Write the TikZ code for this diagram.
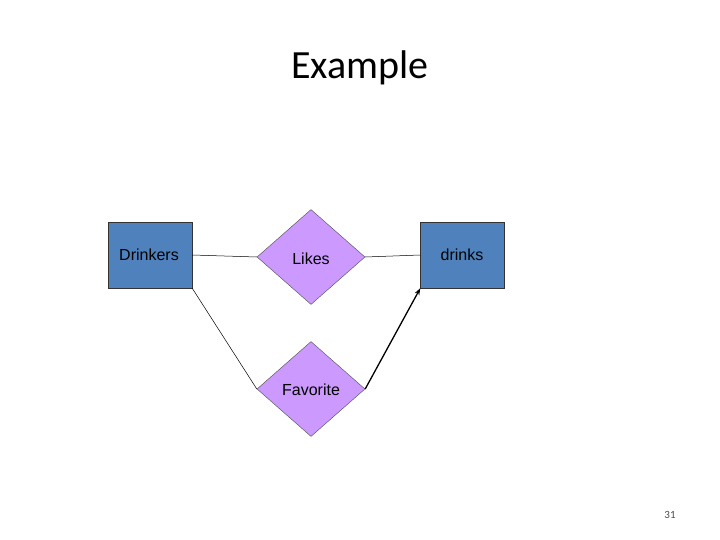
\documentclass[tikz,border=0pt]{standalone}
\usepackage{fontspec}
\setmainfont{Liberation Sans}
\newfontfamily\calib{Carlito}
\usetikzlibrary{shapes.geometric,arrows.meta}
\definecolor{entblue}{RGB}{79,129,189}
\definecolor{rellav}{RGB}{204,153,255}
\tikzset{x=1pt,y=-1pt,
ent/.style={draw=black!80,fill=entblue,minimum width=84pt,minimum height=66pt,inner sep=0pt,font=\fontsize{16}{18}\selectfont},
rel/.style={draw=black!70,fill=rellav,diamond,minimum width=108pt,minimum height=95pt,inner sep=0pt,font=\fontsize{16}{18}\selectfont},
conn/.style={draw=black,line width=0.5pt}}
\begin{document}
\begin{tikzpicture}
\useasboundingbox (0,0) rectangle (720,540);
\node[font=\calib\fontsize{40}{44}\selectfont] (title) at (360,68) {Example};
\node[ent] (dr) at (150,255) {};
\node[font=\fontsize{16}{18}\selectfont] (drl) at (149,255) {Drinkers};
\node[ent] (dk) at (462.5,255) {};
\node[font=\fontsize{16}{18}\selectfont] (dkl) at (462,255) {drinks};
\node[rel] (lk) at (311,257) {};
\node[font=\fontsize{16}{18}\selectfont] (lkl) at (311,259) {Likes};
\node[rel] (fv) at (311,389) {};
\node[font=\fontsize{16}{18}\selectfont] (fvl) at (311,390) {Favorite};
\draw[conn] (dr.east) -- (lk.west);
\draw[conn] (lk.east) -- (dk.west);
\draw[conn] (dr.south east) -- (fv.west);
\draw[line width=1.3pt,-{Stealth[length=7pt,width=5pt]}] (fv.east) -- (dk.south west);
\node[font=\calib\fontsize{11}{12}\selectfont,text=black!70] (pg) at (670,515) {31};
\end{tikzpicture}
\end{document}
